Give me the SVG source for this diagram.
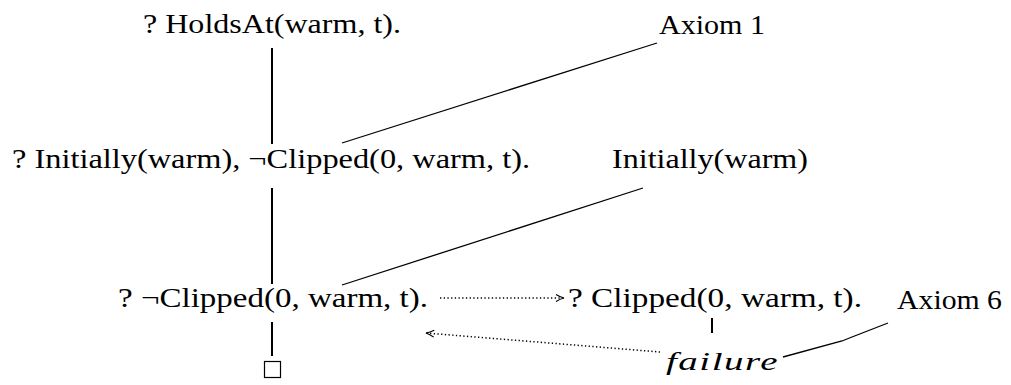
<svg xmlns="http://www.w3.org/2000/svg" width="1011" height="385" viewBox="0 0 1011 385">
<defs>
<style>
text{font-family:'Liberation Serif','Times New Roman',serif;font-size:28px;fill:#000}
.i{font-style:italic;font-size:26px;letter-spacing:1px}
.ln{stroke:#000;stroke-width:1.3;fill:none}
.v{stroke:#000;stroke-width:2;fill:none}
.d{stroke:#000;stroke-width:1.5;fill:none;stroke-dasharray:1.3 2.4}
</style>
<marker id="ah" markerWidth="12" markerHeight="10" refX="9" refY="5" orient="auto" markerUnits="userSpaceOnUse">
<path d="M1,1.5 Q5,4 9,5 Q5,6 1,8.5" stroke="#000" stroke-width="1.2" fill="none"/>
</marker>
</defs>
<rect width="1011" height="385" fill="#fff"/>
<g id="connectors">
<line class="v" x1="272" y1="48" x2="272" y2="144"/>
<line class="v" x1="272" y1="188" x2="272" y2="284"/>
<line class="v" x1="272" y1="322" x2="272" y2="356"/>
<line class="v" x1="712" y1="318" x2="712" y2="333"/>
<line class="ln" x1="342" y1="143" x2="657" y2="43"/>
<line class="ln" x1="342" y1="285" x2="643" y2="188"/>
<polyline class="ln" points="783,357 842,341 852,337 888,323"/>
<line class="d" x1="440" y1="298" x2="564" y2="298" marker-end="url(#ah)"/>
<line class="d" x1="660" y1="352" x2="426" y2="333" marker-end="url(#ah)"/>
</g>
<g id="n1"><text x="143" y="33" textLength="258" lengthAdjust="spacingAndGlyphs">? HoldsAt(warm, t).</text></g>
<g id="ax1"><text x="659" y="34" textLength="106" lengthAdjust="spacingAndGlyphs">Axiom 1</text></g>
<g id="n2"><text x="12" y="168" textLength="518" lengthAdjust="spacingAndGlyphs">? Initially(warm), ¬Clipped(0, warm, t).</text></g>
<g id="init"><text x="612" y="168" textLength="196" lengthAdjust="spacingAndGlyphs">Initially(warm)</text></g>
<g id="n3"><text x="118" y="307" textLength="310" lengthAdjust="spacingAndGlyphs">? ¬Clipped(0, warm, t).</text></g>
<g id="n4"><text x="568" y="307" textLength="294" lengthAdjust="spacingAndGlyphs">? Clipped(0, warm, t).</text></g>
<g id="ax6"><text x="897" y="309" textLength="105" lengthAdjust="spacingAndGlyphs">Axiom 6</text></g>
<g id="fail"><text class="i" x="666" y="370" textLength="113" lengthAdjust="spacingAndGlyphs">failure</text></g>
<g id="box"><rect x="264.5" y="361.5" width="16" height="16" fill="none" stroke="#000" stroke-width="1.2"/></g>
</svg>
